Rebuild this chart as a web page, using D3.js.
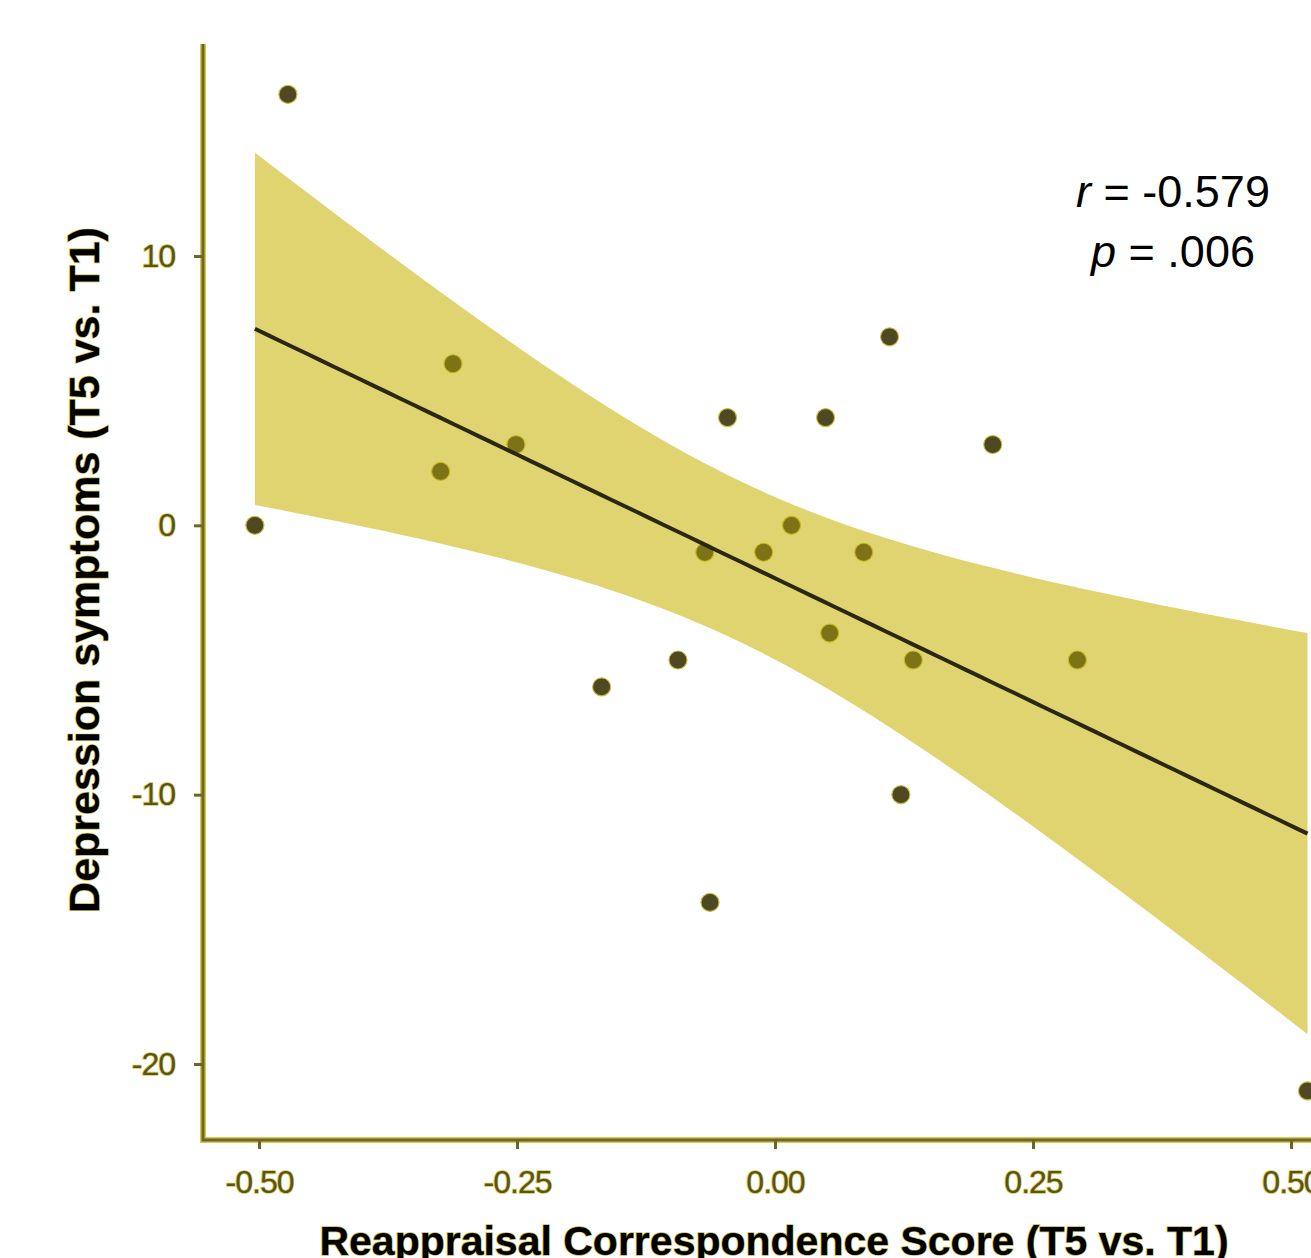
<!DOCTYPE html>
<html>
<head>
<meta charset="utf-8">
<script src="https://cdn.jsdelivr.net/npm/d3@7"></script>
<style>
  body { margin: 0; background: #fff; }
  svg { display: block; font-family: "Liberation Sans", Arial, sans-serif; }
  .tick-label { fill: #59531e; stroke: #d9cd52; stroke-width: 1.6px; paint-order: stroke; }
  .title { fill: #000; font-weight: bold; stroke: #c9bc3c; stroke-width: 1.4px; paint-order: stroke; }
</style>
</head>
<body>
<div id="chart"></div>
<script>
// reappraisal correspondence score (x) and change in depression symptoms (y)
const scoreValues = [-0.472, -0.504, -0.312, -0.324, -0.251, -0.168, -0.094, -0.068, -0.046, -0.063,
                     -0.011, 0.016, 0.049, 0.053, 0.086, 0.111, 0.134, 0.122, 0.211, 0.293, 0.516];
const depressionValues = [16, 0, 6, 2, 3, -6, -5, -1, 4, -14,
                          -1, 0, 4, -4, -1, 7, -5, -10, 3, -5, -21];
const xTicks = [-0.50, -0.25, 0.00, 0.25, 0.50];
const yTicks = [-20, -10, 0, 10];
const statLines = ["r|= -0.579", "p|= .006"];
const tCrit = 2.093; // qt(0.975, df = 19)

const W = 1311, H = 1258;
const svg = d3.select("#chart").append("svg")
  .attr("width", W)
  .attr("height", H);

const x = d3.scaleLinear().domain([-0.5, 0.5]).range([259, 1291]);
const y = d3.scaleLinear().domain([-20, 10]).range([1064, 256]);
const panelLeft = 203, panelBottom = 1140, panelTop = 44;

const data = scoreValues.map((v, i) => ({ x: v, y: depressionValues[i] }));

// linear fit + 95% confidence band (like geom_smooth(method = "lm"))
const n = data.length;
const mx = d3.mean(data, d => d.x), my = d3.mean(data, d => d.y);
const sxx = d3.sum(data, d => (d.x - mx) ** 2);
const sxy = d3.sum(data, d => (d.x - mx) * (d.y - my));
const slope = sxy / sxx, intercept = my - slope * mx;
const sse = d3.sum(data, d => (d.y - (intercept + slope * d.x)) ** 2);
const s = Math.sqrt(sse / (n - 2));
const [xmin, xmax] = d3.extent(data, d => d.x);
const fit = d3.range(81).map(i => {
  const xv = xmin + (xmax - xmin) * i / 80;
  const yv = intercept + slope * xv;
  const se = s * Math.sqrt(1 / n + (xv - mx) ** 2 / sxx);
  return { x: xv, y: yv, lo: yv - tCrit * se, hi: yv + tCrit * se };
});

// points (drawn under the ribbon, as in the original)
svg.append("g").selectAll("circle")
  .data(data)
  .enter().append("circle")
  .attr("cx", d => x(d.x))
  .attr("cy", d => y(d.y))
  .attr("r", 9)
  .attr("fill", "#4f4a1f")
  .attr("stroke", "#c9bd45")
  .attr("stroke-width", 1.2);

svg.append("path")
  .datum(fit)
  .attr("d", d3.area().x(d => x(d.x)).y0(d => y(d.lo)).y1(d => y(d.hi)))
  .attr("fill", "rgb(199,178,0)")
  .attr("fill-opacity", 0.56);

// faint tint on top so points inside the ribbon read olive-grey
svg.append("g").selectAll("circle")
  .data(data)
  .enter().append("circle")
  .attr("cx", d => x(d.x))
  .attr("cy", d => y(d.y))
  .attr("r", 8.4)
  .attr("fill", "#4d4a2c")
  .attr("fill-opacity", 0.3);

svg.append("path")
  .datum(fit)
  .attr("d", d3.line().x(d => x(d.x)).y(d => y(d.y)))
  .attr("fill", "none")
  .attr("stroke", "#2a2713")
  .attr("stroke-width", 4);

// axes
const axisG = svg.append("g");
[["#d6ca4e", 6], ["#6e6626", 3]].forEach(([c, w]) => {
  axisG.append("path")
    .attr("d", `M${panelLeft},${panelTop}V${panelBottom}H${W + 20}`)
    .attr("fill", "none")
    .attr("stroke", c)
    .attr("stroke-width", w);
});

const hyphen = f => v => f(v).replace("\u2212", "-");
const xAxis = svg.append("g")
  .attr("transform", `translate(0,${panelBottom})`)
  .call(d3.axisBottom(x).tickValues(xTicks).tickSize(9).tickSizeOuter(0).tickFormat(hyphen(d3.format(".2f"))));
const yAxis = svg.append("g")
  .attr("transform", `translate(${panelLeft},0)`)
  .call(d3.axisLeft(y).tickValues(yTicks).tickSize(9).tickSizeOuter(0).tickFormat(hyphen(d3.format("d"))));

[xAxis, yAxis].forEach(g => {
  g.select(".domain").remove();
  g.selectAll(".tick line").attr("stroke", "#6e6626").attr("stroke-width", 3);
  g.selectAll(".tick text")
    .attr("class", "tick-label")
    .attr("font-size", 32)
    .attr("font-family", "Liberation Sans, Arial, sans-serif")
    .style("letter-spacing", "-1px");
});
xAxis.selectAll(".tick text").attr("y", 30);
yAxis.selectAll(".tick text").attr("x", -28);

// titles
svg.append("text")
  .attr("class", "title")
  .attr("x", 774)
  .attr("y", 1255)
  .attr("text-anchor", "middle")
  .attr("font-size", 41)
  .text("Reappraisal Correspondence Score (T5 vs. T1)");

svg.append("text")
  .attr("class", "title")
  .attr("transform", "translate(99,570) rotate(-90)")
  .attr("text-anchor", "middle")
  .attr("font-size", 43)
  .text("Depression symptoms (T5 vs. T1)");

// r / p annotation
const ann = svg.append("g");
statLines.forEach((line, i) => {
  const [sym, rest] = line.split("|");
  const t = ann.append("text")
    .attr("x", 1173)
    .attr("y", 207 + i * 60)
    .attr("text-anchor", "middle")
    .attr("font-size", 45)
    .attr("fill", "#000");
  t.append("tspan").attr("font-style", "italic").text(sym);
  t.append("tspan").text(" " + rest);
});
</script>
</body>
</html>
